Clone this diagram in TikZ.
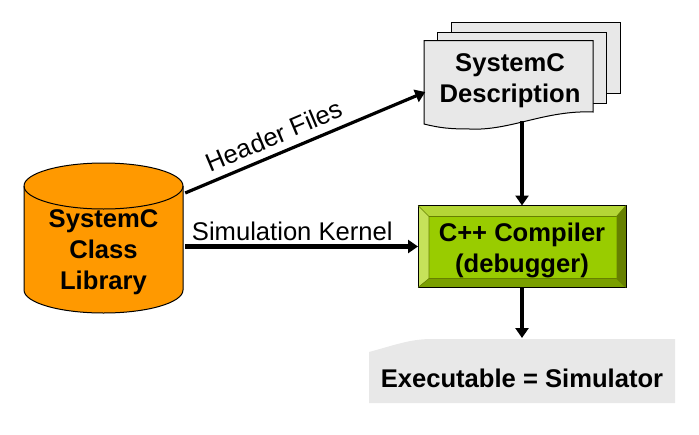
\documentclass[tikz,border=0pt]{standalone}
\usepackage{fontspec}
\setmainfont{Liberation Sans}
\usetikzlibrary{positioning, calc, arrows.meta, shapes}
\tikzset{>={Triangle[width=13pt,length=10pt]}}
\definecolor{sheetgray}{HTML}{E8E8E8}
\definecolor{liborange}{HTML}{FF9900}
\definecolor{compgreen}{HTML}{99CC00}
\definecolor{bevellight}{HTML}{C6E25A}
\definecolor{beveltop}{HTML}{B4D636}
\definecolor{bevelbottom}{HTML}{7A9F00}
\definecolor{beveldark}{HTML}{668000}

\begin{document}
\begin{tikzpicture}
    [x=1pt, y=-1pt,
    big text/.style={font=\fontsize{25.6}{31}\selectfont\bfseries, align=center},
    small text/.style={font=\fontsize{25.6}{31}\selectfont},
    my sheet/.style={draw, line width=1pt, fill=sheetgray, minimum width=169pt, minimum height=71pt},
    my flow/.style={->, line width=4.5pt},
    my thin flow/.style={->, line width=3.2pt}]
    \useasboundingbox (0,0) rectangle (699,434);

    % stack of description pages
    \node[my sheet] (backpage) at (535.5,57.5) {};
    \node[my sheet] (midpage) at (522,67.5) {};
    \draw[line width=1pt, fill=sheetgray] (424,40.5) -- (593,40.5) -- (593,112)
    .. controls (545,110) and (510,131) .. (470,129)
    .. controls (450,129) and (440,128) .. (424,124) -- cycle;
    \node[big text, minimum width=169pt, minimum height=80pt] (desc) at (510,81)
    {SystemC\\Description};

    % class library
    \draw[line width=1pt, fill=liborange] (24,186)
    .. controls (24,173.3) and (59.6,163) .. (103.5,163)
    .. controls (147.4,163) and (183,173.3) .. (183,186) -- (183,290)
    .. controls (183,302.7) and (147.4,313) .. (103.5,313)
    .. controls (59.6,313) and (24,302.7) .. (24,290) -- cycle;
    \draw[line width=1pt] (24,186)
    .. controls (24,198.7) and (59.6,209) .. (103.5,209)
    .. controls (147.4,209) and (183,198.7) .. (183,186);
    \node[big text, minimum width=159pt, minimum height=121pt] (lib) at (103.5,252.5)
    {SystemC\\Class\\Library};

    % compiler block with bevelled edge
    \node[draw, line width=1pt, fill=compgreen, minimum width=207pt, minimum height=81pt]
    (comp) at (522,246.5) {};
    \coordinate (innw) at ($(comp.north west)+(11,11)$);
    \coordinate (inne) at ($(comp.north east)+(-9.5,11)$);
    \coordinate (insw) at ($(comp.south west)+(11,-9)$);
    \coordinate (inse) at ($(comp.south east)+(-9.5,-9)$);
    \fill[beveltop] (comp.north west) -- (comp.north east) -- (inne) -- (innw) -- cycle;
    \fill[bevellight] (comp.north west) -- (comp.south west) -- (insw) -- (innw) -- cycle;
    \fill[bevelbottom] (comp.south west) -- (comp.south east) -- (inse) -- (insw) -- cycle;
    \fill[beveldark] (comp.north east) -- (comp.south east) -- (inse) -- (inne) -- cycle;
    \draw[line width=1pt] (comp.north west) rectangle (comp.south east);
    \draw[line width=0.6pt, beveldark] (comp.north west) -- (innw) -- (inne) -- (comp.north east)
    (innw) -- (insw) -- (comp.south west) (insw) -- (inse) -- (comp.south east);
    \node[big text] (compname) at (522,250) {C++ Compiler\\(debugger)};

    % output of the compiler
    \fill[sheetgray] (369,352) .. controls (395,345) and (410,339) .. (432,339)
    -- (675,339) -- (675,403) -- (369,403) -- cycle;
    \node[big text] (exe) at (522,378) {Executable = Simulator};
    \coordinate (exetop) at (522,338);

    \draw[my thin flow] ([shift={(2,-59.5)}]lib.east) to
    node[pos=0.4, above=4pt, sloped, small text] {Header Files} (desc.west |- 0,92);
    \draw[my flow] ([xshift=2pt]lib.east |- comp.west) to
    node[pos=0.46, above=0pt, small text] {Simulation Kernel} (comp.west);
    \draw[my flow] (comp.north |- desc.south) to (comp.north);
    \draw[my flow] (comp.south) to (exetop);
  \end{tikzpicture}
\end{document}
